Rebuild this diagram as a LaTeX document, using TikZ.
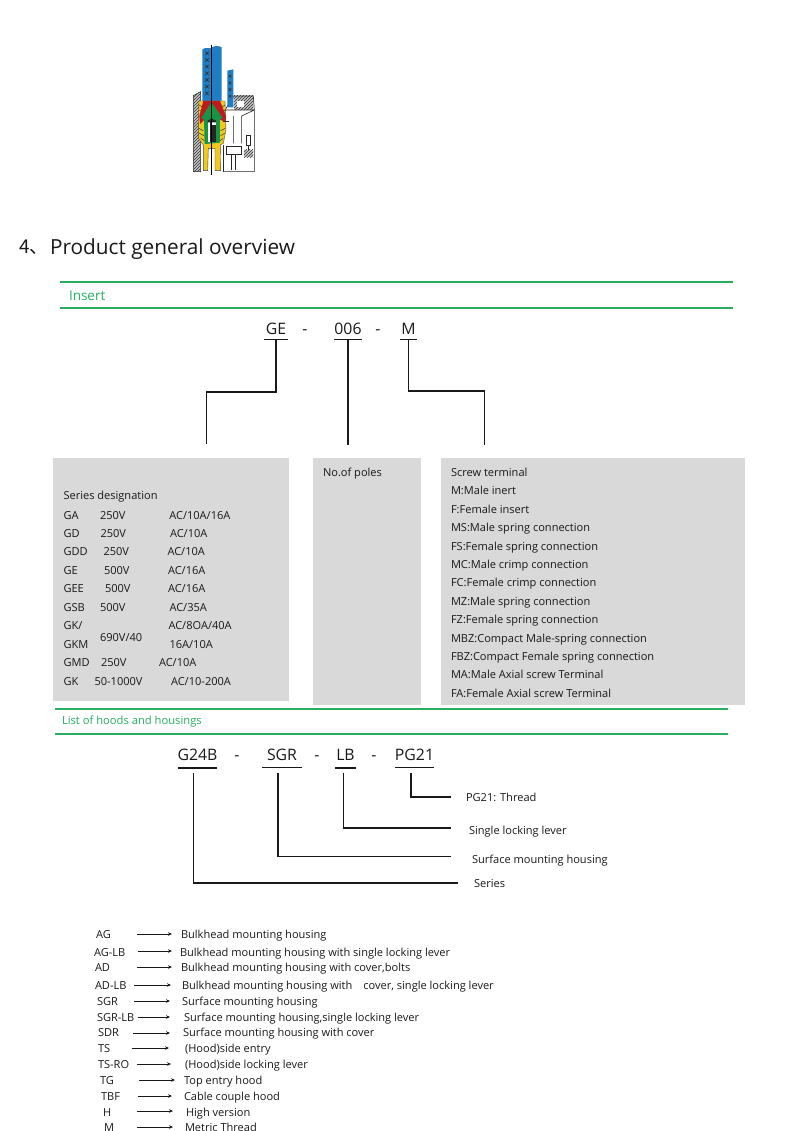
\documentclass[tikz,border=0pt]{standalone}
\usepackage{fontspec}
\setmainfont{Open Sans}
\newfontfamily\cjk{Noto Sans CJK SC}
\usepackage{xcolor}
\usetikzlibrary{arrows.meta, positioning, patterns}
\definecolor{rulegreen}{RGB}{39,174,96}
\definecolor{boxgray}{RGB}{217,217,217}
\definecolor{tubeblue}{RGB}{30,125,195}
\definecolor{inkblack}{RGB}{25,25,25}
\definecolor{contactyellow}{RGB}{240,200,30}
\definecolor{sealred}{RGB}{190,25,30}
\definecolor{coregreen}{RGB}{20,150,70}

\begin{document}
\begin{tikzpicture}[
        x=1pt, y=-1pt,
        every node/.style={inner sep=0pt, outer sep=0pt, text=inkblack},
        graybox/.style={fill=boxgray, minimum width=#1},
        rowtext/.style={anchor=west, font=\fontsize{11.05}{13}\selectfont, text height=11pt, text depth=2.5pt},
        hoodtext/.style={rowtext},
        partcode/.style={font=\fontsize{15.8}{18}\selectfont, text height=12pt, text depth=5pt, minimum width=#1},
        dashtext/.style={font=\fontsize{15.8}{18}\selectfont, text height=12pt, text depth=5pt},
        lowcode/.style={text height=9.5pt, text depth=7.5pt},
        greenrule/.style={draw=rulegreen, line width=1.5pt},
        ruling/.style={draw=inkblack, line width=1.2pt},
        rowarrow/.style={draw=inkblack, line width=0.8pt, -{Stealth[length=4pt, width=3.5pt]}},
        hatched/.style={fill=gray!45, postaction={pattern=north east lines, pattern color=black!80}},
        fineline/.style={draw=black!85, line width=0.6pt}
    ]
        \useasboundingbox (0,0) rectangle (800,1131);

        % cut-away picture of the connector
        \begin{scope}[shift={(170,30)}, x=0.3333pt, y=-0.3333pt]
            % housing
            \fill[white] (70,195) rectangle (255,425);
            \path[hatched] (70,197) -- (92,185) -- (92,425) -- (70,425) -- cycle;
            \draw[fineline] (70,197) -- (92,185) -- (92,425) -- (70,425) -- cycle;
            \path[hatched] (192,198) -- (250,198) -- (250,240) -- (192,240) -- cycle;
            \fill[white] (200,212) rectangle (222,230);
            \draw[fineline] (165,240) -- (192,198) -- (250,198) -- (253,240) -- (253,425) -- (160,425);
            \path[hatched] (222,360) rectangle (250,382);
            % tubes
            \fill[tubeblue] (97,58) .. controls (110,48) and (120,60) .. (126,52) .. controls (135,46) and (150,48) .. (155,52) -- (155,215) -- (97,215) -- cycle;
            \fill[tubeblue] (172,122) -- (190,118) -- (190,232) -- (172,232) -- cycle;
            \draw[black!80, line width=0.7pt] (106,65) -- (116,75) (116,65) -- (106,75) (106,85) -- (116,95) (116,85) -- (106,95)
                (106,105) -- (116,115) (116,105) -- (106,115) (106,125) -- (116,135) (116,125) -- (106,135)
                (106,145) -- (116,155) (116,145) -- (106,155) (106,165) -- (116,175) (116,165) -- (106,175)
                (106,185) -- (116,195) (116,185) -- (106,195);
            \draw[black!80, line width=0.6pt] (176,135) -- (184,143) (184,135) -- (176,143) (176,155) -- (184,163) (184,155) -- (176,163)
                (176,175) -- (184,183) (184,175) -- (176,183) (176,195) -- (184,203) (184,195) -- (176,203);
            % contact body
            \fill[contactyellow, draw=black!70, line width=0.4pt] (87,213) -- (165,213) -- (168,300) -- (160,340) -- (151,345) -- (152,422) -- (135,422) -- (135,355) -- (115,355) -- (113,422) -- (100,422) -- (100,345) -- (85,325) -- (85,290) -- cycle;
            \draw[black!80, line width=0.5pt] (88,225) -- (98,232) (88,240) -- (96,246) (86,295) -- (100,302) (88,310) -- (102,317) (92,325) -- (104,332)
                (165,225) -- (155,232) (166,240) -- (158,246) (166,295) -- (152,302) (164,310) -- (152,317) (160,325) -- (150,332);
            \fill[sealred] (100,213) -- (150,213) -- (168,258) -- (166,276) -- (148,268) -- (105,268) -- (90,282) -- (88,258) -- cycle;
            \fill[coregreen] (124,216) -- (158,264) -- (150,268) -- (150,338) -- (104,342) -- (102,268) -- (94,264) -- cycle;
            \fill[white] (113,272) rectangle (138,335);
            \fill[black!85] (126,284) rectangle (138,335);
            \fill[black!85] (113,272) -- (125,266) -- (138,272) -- (138,277) -- (113,277) -- cycle;
            \draw[black!85, line width=0.6pt] (120,277) -- (120,335);
            % small details on the right
            \draw[fineline, fill=white] (170,350) -- (215,350) -- (215,372) -- (170,372) -- cycle;
            \draw[fineline] (183,372) -- (183,420) (196,372) -- (196,420);
            \draw[fineline] (228,315) rectangle (240,345) (234,345) -- (234,360);
            \draw[fineline] (190,258) -- (190,340) (215,258) -- (215,340) (165,240) -- (253,240) (215,258) -- (253,240);
            \draw[fineline] (160,275) -- (178,275) (160,425) -- (160,345);
            \draw[line width=0.4pt] (124,45) -- (124,435);
        \end{scope}

        \node[anchor=west, font=\fontsize{19}{22}\selectfont\cjk] (titlenum) at (19,247) {4、};
        \node[anchor=west, font=\fontsize{20.8}{25}\selectfont] (title) at (50,249) {Product general overview};

        % Insert
        \coordinate (ruleaw) at (60,282); \coordinate (ruleae) at (733,282);
        \coordinate (rulebw) at (60,308); \coordinate (rulebe) at (733,308);
        \draw[greenrule] (ruleaw) -- (ruleae);
        \draw[greenrule] (rulebw) -- (rulebe);
        \node[anchor=west, text=rulegreen, font=\fontsize{13.5}{16}\selectfont] (insert) at (69,296) {Insert};

        \node[partcode=24pt] (ge) at (276,331) {GE};
        \node[dashtext] (dasha) at (305,331) {-};
        \node[partcode=24pt] (poles) at (348,331) {006};
        \node[dashtext] (dashb) at (378,331) {-};
        \node[partcode=17pt] (term) at (408.5,331) {M};
        \draw[ruling] (ge.south west) -- (ge.south east);
        \draw[ruling] (poles.south west) -- (poles.south east);
        \draw[ruling] (term.south west) -- (term.south east);

        \coordinate (gebend) at (206.5,392);
        \coordinate (geend) at (206.5,444);
        \coordinate (polesend) at (348,445);
        \coordinate (termbend) at (484.5,391);
        \coordinate (termend) at (484.5,445);
        \draw[ruling] (ge.south) |- (gebend) -- (geend);
        \draw[ruling] (poles.south) -- (polesend);
        \draw[ruling] (term.south) |- (termbend) -- (termend);

        \node[graybox=236pt, minimum height=243pt] (seriesbox) at (171,579.5) {};
        \node[graybox=108pt, minimum height=247pt] (polesbox) at (367,581.5) {};
        \node[graybox=304pt, minimum height=247pt] (termbox) at (593,581.5) {};

        \node[rowtext] (sd) at (63.5,495) {Series designation};
        \node[rowtext] (ga) at (63.5,515) {GA};
        \node[rowtext] (gav) at (100,515) {250V};
        \node[rowtext] (gaa) at (169.3,515) {AC/10A/16A};
        \node[rowtext] (gd) at (63.5,533) {GD};
        \node[rowtext] (gdv) at (100.5,533) {250V};
        \node[rowtext] (gda) at (170,533) {AC/10A};
        \node[rowtext] (gdd) at (63.5,551.5) {GDD};
        \node[rowtext] (gddv) at (103.5,551.5) {250V};
        \node[rowtext] (gdda) at (167.5,551.5) {AC/10A};
        \node[rowtext] (gee) at (63.5,570) {GE};
        \node[rowtext] (geev) at (104,570) {500V};
        \node[rowtext] (geea) at (168,570) {AC/16A};
        \node[rowtext] (geb) at (63.5,588) {GEE};
        \node[rowtext] (gebv) at (105,588) {500V};
        \node[rowtext] (geba) at (168,588) {AC/16A};
        \node[rowtext] (gsb) at (63.5,607) {GSB};
        \node[rowtext] (gsbv) at (100,607) {500V};
        \node[rowtext] (gsba) at (169.5,607) {AC/35A};
        \node[rowtext] (gk) at (63.5,625) {GK/};
        \node[rowtext] (gka) at (168.5,625) {AC/8OA/40A};
        \node[rowtext] (gkm) at (63.5,644) {GKM};
        \node[rowtext] (gkmv) at (100,637) {690V/40};
        \node[rowtext] (gkma) at (169.5,644) {16A/10A};
        \node[rowtext] (gmd) at (63.5,662) {GMD};
        \node[rowtext] (gmdv) at (101,662) {250V};
        \node[rowtext] (gmda) at (159,662) {AC/10A};
        \node[rowtext] (gkb) at (63.5,681) {GK};
        \node[rowtext] (gkbv) at (94.5,681) {50-1000V};
        \node[rowtext] (gkba) at (171,681) {AC/10-200A};

        \node[rowtext] (nop) at (323,472) {No.of poles};

        \node[rowtext] (st) at (451,472) {Screw terminal};
        \node[rowtext] (tm) at (451,490.5) {M:Male inert};
        \node[rowtext] (tf) at (451,509) {F:Female insert};
        \node[rowtext] (tms) at (451,527.5) {MS:Male spring connection};
        \node[rowtext] (tfs) at (451,546) {FS:Female spring connection};
        \node[rowtext] (tmc) at (451,564) {MC:Male crimp connection};
        \node[rowtext] (tfc) at (451,582.5) {FC:Female crimp connection};
        \node[rowtext] (tmz) at (451,601) {MZ:Male spring connection};
        \node[rowtext] (tfz) at (451,619.5) {FZ:Female spring connection};
        \node[rowtext] (tmbz) at (451,638) {MBZ:Compact Male-spring connection};
        \node[rowtext] (tfbz) at (451,656.5) {FBZ:Compact Female spring connection};
        \node[rowtext] (tma) at (451,674.5) {MA:Male Axial screw Terminal};
        \node[rowtext] (tfa) at (451,693) {FA:Female Axial screw Terminal};

        % List of hoods
        \coordinate (rulecw) at (55,709); \coordinate (rulece) at (728,709);
        \coordinate (ruledw) at (55,734); \coordinate (rulede) at (728,734);
        \draw[greenrule] (rulecw) -- (rulece);
        \draw[greenrule] (ruledw) -- (rulede);
        \node[anchor=west, text=rulegreen, font=\fontsize{11.2}{13}\selectfont] (hoodlist) at (62,722) {List of hoods and housings};

        \node[partcode=39pt, lowcode] (gser) at (197.5,759.5) {G24B};
        \node[dashtext, lowcode] (dashc) at (237,759.5) {-};
        \node[partcode=40pt, lowcode] (sgr) at (282,759) {SGR};
        \node[dashtext, lowcode] (dashd) at (317,759.5) {-};
        \node[partcode=21pt, lowcode] (lb) at (345.5,759.5) {LB};
        \node[dashtext, lowcode] (dashe) at (374,759.5) {-};
        \node[partcode=39pt, lowcode] (pg) at (414.5,759) {PG21};
        \draw[ruling] (gser.south west) -- (gser.south east);
        \draw[ruling] (sgr.south west) -- (sgr.south east);
        \draw[ruling] (lb.south west) -- (lb.south east);
        \draw[ruling] (pg.south west) -- (pg.south east);

        \node[rowtext] (thread) at (466,797) {PG21: Thread};
        \node[rowtext] (lever) at (469,830) {Single locking lever};
        \node[rowtext] (surface) at (472,859) {Surface mounting housing};
        \node[rowtext] (series) at (474,883) {Series};
        \coordinate (threadend) at (451,797);
        \coordinate (leverend) at (451,828);
        \coordinate (surfaceend) at (451,856.5);
        \coordinate (seriesend) at (458,883);
        \draw[ruling, shorten <=5pt] ([xshift=-4pt]gser.south) |- (seriesend);
        \draw[ruling, shorten <=5pt] ([xshift=-4pt]sgr.south) |- (surfaceend);
        \draw[ruling, shorten <=5pt] ([xshift=-2pt]lb.south) |- (leverend);
        \draw[ruling, shorten <=5pt] ([xshift=-3.5pt]pg.south) |- (threadend);

        \node[hoodtext] (ag) at (96,934) {AG};
        \node[hoodtext] (hag) at (181,934) {Bulkhead mounting housing};
        \node[hoodtext] (aglb) at (94,952) {AG-LB};
        \node[hoodtext] (haglb) at (180,952) {Bulkhead mounting housing with single locking lever};
        \node[hoodtext] (ad) at (95,967) {AD};
        \node[hoodtext] (had) at (181,967) {Bulkhead mounting housing with cover,bolts};
        \node[hoodtext] (adlb) at (95,985) {AD-LB};
        \node[hoodtext] (hadlb) at (182,985) {Bulkhead mounting housing with\quad cover, single locking lever};
        \node[hoodtext] (sg) at (97,1001) {SGR};
        \node[hoodtext] (hsg) at (182,1001) {Surface mounting housing};
        \node[hoodtext] (sglb) at (97,1017) {SGR-LB};
        \node[hoodtext] (hsglb) at (184,1017) {Surface mounting housing,single locking lever};
        \node[hoodtext] (sdr) at (98,1032) {SDR};
        \node[hoodtext] (hsdr) at (183,1032) {Surface mounting housing with cover};
        \node[hoodtext] (ts) at (98,1048) {TS};
        \node[hoodtext] (hts) at (185,1048) {(Hood)side entry};
        \node[hoodtext] (tsro) at (98,1064) {TS-RO};
        \node[hoodtext] (htsro) at (185,1064) {(Hood)side locking lever};
        \node[hoodtext] (tg) at (100,1080) {TG};
        \node[hoodtext] (htg) at (184,1080) {Top entry hood};
        \node[hoodtext] (tbf) at (101,1096) {TBF};
        \node[hoodtext] (htbf) at (184,1096) {Cable couple hood};
        \node[hoodtext] (hv) at (103,1112) {H};
        \node[hoodtext] (hhv) at (186,1112) {High version};
        \node[hoodtext] (mt) at (104,1127) {M};
        \node[hoodtext] (hmt) at (185,1127) {Metric Thread};

        \coordinate (agtail) at (137,934); \coordinate (agtip) at (172,934);
        \coordinate (aglbtail) at (138,951); \coordinate (aglbtip) at (172,951);
        \coordinate (adtail) at (137,967); \coordinate (adtip) at (172,967);
        \coordinate (adlbtail) at (134,985); \coordinate (adlbtip) at (171,985);
        \coordinate (sgtail) at (134,1001); \coordinate (sgtip) at (170,1001);
        \coordinate (sglbtail) at (138,1017); \coordinate (sglbtip) at (170,1017);
        \coordinate (sdrtail) at (133,1033); \coordinate (sdrtip) at (170,1033);
        \coordinate (tstail) at (132,1048); \coordinate (tstip) at (169,1048);
        \coordinate (tsrotail) at (137,1064); \coordinate (tsrotip) at (171,1064);
        \coordinate (tgtail) at (139,1080); \coordinate (tgtip) at (175,1080);
        \coordinate (tbftail) at (138,1096); \coordinate (tbftip) at (172,1096);
        \coordinate (hvtail) at (137,1111); \coordinate (hvtip) at (173,1111);
        \coordinate (mttail) at (137,1127); \coordinate (mttip) at (173,1127);
        \draw[rowarrow] (agtail) -- (agtip);
        \draw[rowarrow] (aglbtail) -- (aglbtip);
        \draw[rowarrow] (adtail) -- (adtip);
        \draw[rowarrow] (adlbtail) -- (adlbtip);
        \draw[rowarrow] (sgtail) -- (sgtip);
        \draw[rowarrow] (sglbtail) -- (sglbtip);
        \draw[rowarrow] (sdrtail) -- (sdrtip);
        \draw[rowarrow] (tstail) -- (tstip);
        \draw[rowarrow] (tsrotail) -- (tsrotip);
        \draw[rowarrow] (tgtail) -- (tgtip);
        \draw[rowarrow] (tbftail) -- (tbftip);
        \draw[rowarrow] (hvtail) -- (hvtip);
        \draw[rowarrow] (mttail) -- (mttip);
    \end{tikzpicture}
\end{document}
